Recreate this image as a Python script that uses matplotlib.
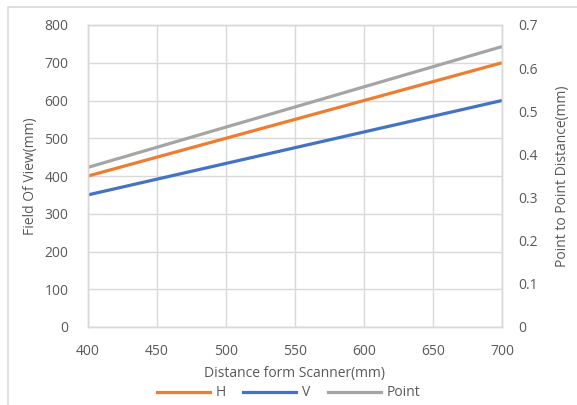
import matplotlib.pyplot as plt
from matplotlib.patches import Rectangle
from matplotlib.lines import Line2D

plt.rcParams['font.family'] = ['Open Sans', 'DejaVu Sans']

distance = [400, 700]
h_fov = [400, 700]
v_fov = [350, 600]
point_dist = [0.37, 0.65]

text_color = '#595959'
grid_color = '#d9d9d9'
c_h, c_v, c_p = '#ED7D31', '#4472C4', '#A5A5A5'

fig = plt.figure(figsize=(5.77, 4.05), dpi=100)
fig.patches.append(Rectangle((8 / 577, -0.1), 1.2, 1 - 7 / 405 + 0.1,
                             transform=fig.transFigure, fill=False,
                             edgecolor=grid_color, linewidth=1.2))

ax = fig.add_axes([88 / 577, 1 - 327 / 405, (502 - 88) / 577, (327 - 25) / 405])
ax2 = ax.twinx()

ax.plot(distance, h_fov, color=c_h, linewidth=2.3, solid_capstyle='butt')
ax.plot(distance, v_fov, color=c_v, linewidth=2.3, solid_capstyle='butt')
ax2.plot(distance, point_dist, color=c_p, linewidth=2.3, solid_capstyle='butt')

ax.set_xlim(400, 700)
ax.set_ylim(0, 800)
ax2.set_ylim(0, 0.7)
ax.set_xticks(range(400, 701, 50))
ax.set_yticks(range(0, 801, 100))
ax2.set_yticks([i / 10 for i in range(8)])
ax2.set_yticklabels(['0'] + [f'{i / 10:.1f}' for i in range(1, 8)])

ax.grid(True, color=grid_color, linewidth=1.0)
ax.set_axisbelow(True)
for a in (ax, ax2):
    for s in a.spines.values():
        s.set_color(grid_color)
        s.set_linewidth(1.0)
    a.tick_params(length=0, labelsize=10, colors=text_color)
ax.tick_params(axis='y', pad=14)
ax.tick_params(axis='x', pad=12)
ax2.tick_params(axis='y', pad=12)

ax.set_xlabel('Distance form Scanner(mm)', fontsize=10, color=text_color, labelpad=5)
ax.set_ylabel('Field Of View(mm)', fontsize=10, color=text_color, labelpad=5)
ax2.set_ylabel('Point to Point Distance(mm)', fontsize=10, color=text_color, labelpad=12)

handles = [Line2D([], [], color=c, linewidth=2.3) for c in (c_h, c_v, c_p)]
fig.legend(handles, ['H', 'V', 'Point'], loc='center', bbox_to_anchor=(0.5, 1 - 393 / 405),
           ncol=3, frameon=False, fontsize=10, labelcolor=text_color,
           handlelength=3.8, handletextpad=0.4, columnspacing=1.3)

fig.savefig('out.png', dpi=100)
